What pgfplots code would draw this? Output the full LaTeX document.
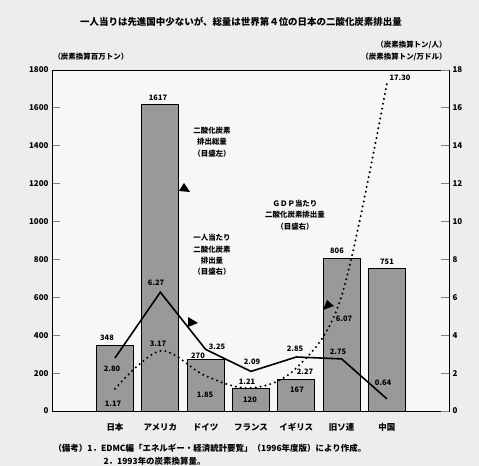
\documentclass[border=0pt]{standalone}
\usepackage{pgfplots}
\pgfplotsset{compat=1.18}
\usepackage{fontspec}
\setmainfont{Noto Sans CJK JP}
\begin{document}
\begin{tikzpicture}[x=1bp,y=1bp, every node/.append style={font=\bfseries}]
\fill[black!7] (0,0) rectangle (479,466);
\useasboundingbox (0,0) rectangle (479,466);
\begin{axis}[at={(52bp,55bp)}, anchor=south west, scale only axis,
  width=397bp, height=341bp,
  xmin=-1.39, xmax=7.37, ymin=0, ymax=1800,
  axis background/.style={fill=black!3},
  axis line style={line width=0.9pt},
  ytick={0,200,...,1800}, ytick pos=left, tick align=inside,
  major tick length=8bp, tick style={line width=0.9pt},
  xtick={0,1,2,3,4,5,6},
  xticklabels={日本,アメリカ,ドイツ,フランス,イギリス,旧ソ連,中国},
  xtick style={draw=none},
  xticklabel style={font=\bfseries\fontsize{8.5}{10}\selectfont, yshift=-9bp},
  yticklabel style={font=\bfseries\fontsize{8}{9}\selectfont},
  /pgf/number format/assume math mode=true,
  /pgf/number format/1000 sep={},
]
\addplot[ybar, bar width=37bp, fill=black!40, draw=black, line width=0.9pt]
  coordinates {(0,348) (1,1617) (2,270) (3,120) (4,167) (5,806) (6,751)};
\end{axis}
\begin{axis}[at={(52bp,55bp)}, anchor=south west, scale only axis,
  width=397bp, height=341bp,
  xmin=-1.39, xmax=7.37, ymin=0, ymax=18,
  axis y line*=right, axis x line=none,
  axis line style={line width=0.9pt},
  ytick={0,2,...,18}, tick align=inside,
  major tick length=8bp, tick style={line width=0.9pt},
  yticklabel style={font=\bfseries\fontsize{8}{9}\selectfont},
  /pgf/number format/assume math mode=true,
]
\addplot[black, line width=1.6pt]
  coordinates {(0,2.80) (1,6.27) (2,3.25) (3,2.09) (4,2.85) (5,2.75) (6,0.64)};
\addplot[black, line width=2.3pt, dash pattern=on 0pt off 5pt, line cap=round, smooth, tension=0.55]
  coordinates {(0,1.17) (1,3.17) (2,1.85) (3,1.21) (4,2.27) (5,6.07) (6,17.30)};
\end{axis}
% titles and notes
\node[font=\bfseries\fontsize{9.5}{11}\selectfont] at (241,444) {一人当りは先進国中少ないが、総量は世界第４位の日本の二酸化炭素排出量};
\node[anchor=west, font=\bfseries\fontsize{7.5}{9}\selectfont] at (50,409) {（炭素換算百万トン）};
\node[anchor=east, font=\bfseries\fontsize{7.5}{9}\selectfont] at (450,421) {（炭素換算トン/人）};
\node[anchor=east, font=\bfseries\fontsize{7.5}{9}\selectfont] at (450,409) {（炭素換算トン/万ドル）};
\node[anchor=base west, font=\bfseries\fontsize{8.5}{10}\selectfont] at (50,14) {（備考）1．EDMC編「エネルギー・経済統計要覧」（1996年度版）により作成。};
\node[anchor=base west, font=\bfseries\fontsize{8.5}{10}\selectfont] at (100,1) {2．1993年の炭素換算量。};
% annotations
\node[align=center, font=\bfseries\fontsize{7.5}{11.5}\selectfont] at (212,324) {二酸化炭素\\排出総量\\（目盛左）};
\node[align=center, font=\bfseries\fontsize{7.5}{11.5}\selectfont] at (212,211) {一人当たり\\二酸化炭素\\排出量\\（目盛右）};
\node[align=center, font=\bfseries\fontsize{7.5}{11.5}\selectfont] at (295,251) {ＧＤＰ当たり\\二酸化炭素排出量\\（目盛右）};
\fill (179,275) -- (190,274) -- (184,283) -- cycle;
\fill (188,149) -- (188,139) -- (198,143) -- cycle;
\fill (323,156) -- (327,166) -- (334,160) -- cycle;
% value labels
\begin{scope}[every node/.append style={font=\bfseries\fontsize{7.5}{9}\selectfont}]
\node at (107,128) {348};
\node at (158,368) {1617};
\node at (198,110) {270};
\node at (250,66) {120};
\node at (297,76) {167};
\node at (337,215) {806};
\node at (387,204) {751};
\node at (112,97) {2.80};
\node at (113,62) {1.17};
\node at (156,183) {6.27};
\node at (158,122) {3.17};
\node at (217,119) {3.25};
\node at (205,71) {1.85};
\node at (252,104) {2.09};
\node at (247,84) {1.21};
\node at (295,117) {2.85};
\node at (305,94) {2.27};
\node at (338,114) {2.75};
\node at (344,147) {6.07};
\node at (383,83) {0.64};
\node at (400,388) {17.30};
\end{scope}
\end{tikzpicture}
\end{document}
